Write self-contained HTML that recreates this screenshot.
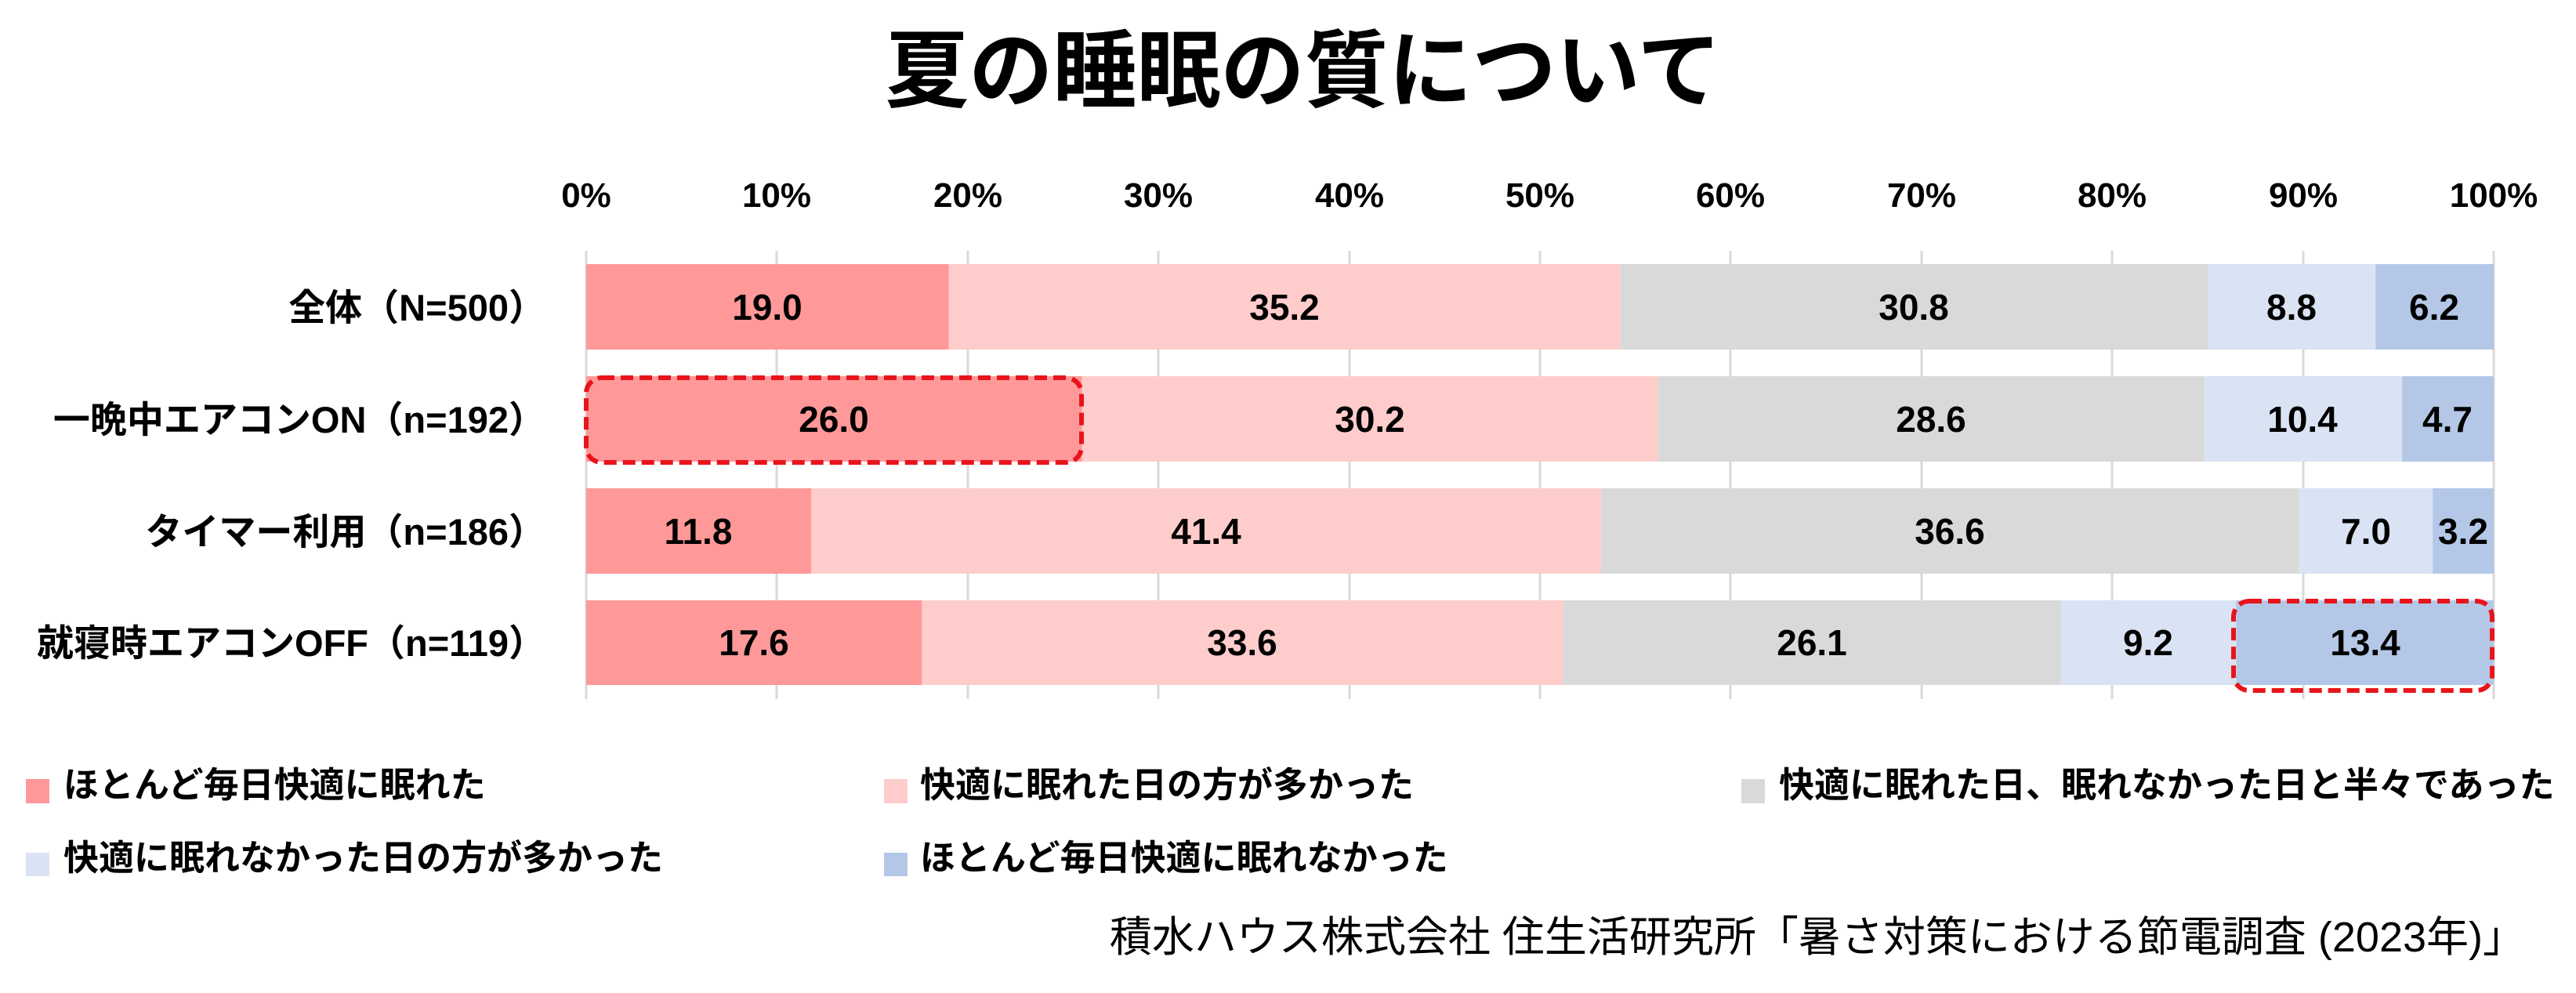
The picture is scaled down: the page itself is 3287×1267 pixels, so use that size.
<!DOCTYPE html>
<html><head><meta charset="utf-8"><style>
html,body{margin:0;padding:0;background:#fff;}
svg{display:block;}
text{font-family:"Liberation Sans","Noto Sans CJK JP",sans-serif;}
.b{font-weight:bold;}
</style></head><body>
<svg width="3287" height="1267" viewBox="0 0 3287 1267" xmlns="http://www.w3.org/2000/svg">
<text x="1663" y="128" text-anchor="middle" class="b" font-size="108" textLength="1067" lengthAdjust="spacingAndGlyphs">夏の睡眠の質について</text>
<g font-size="44" class="b" text-anchor="middle">
<text x="748" y="264">0%</text><text x="991" y="264">10%</text><text x="1235" y="264">20%</text><text x="1478" y="264">30%</text><text x="1722" y="264">40%</text><text x="1965" y="264">50%</text><text x="2208" y="264">60%</text><text x="2452" y="264">70%</text><text x="2695" y="264">80%</text><text x="2939" y="264">90%</text><text x="3182" y="264">100%</text>
</g>
<g stroke="#d9d9d9" stroke-width="3">
<line x1="748" y1="320" x2="748" y2="892"/><line x1="991" y1="320" x2="991" y2="892"/><line x1="1235" y1="320" x2="1235" y2="892"/><line x1="1478" y1="320" x2="1478" y2="892"/><line x1="1722" y1="320" x2="1722" y2="892"/><line x1="1965" y1="320" x2="1965" y2="892"/><line x1="2208" y1="320" x2="2208" y2="892"/><line x1="2452" y1="320" x2="2452" y2="892"/><line x1="2695" y1="320" x2="2695" y2="892"/><line x1="2939" y1="320" x2="2939" y2="892"/><line x1="3182" y1="320" x2="3182" y2="892"/>
</g>
<rect x="748" y="337" width="462.5" height="109" fill="#ff9999"/>
<rect x="1210.5" y="337" width="856.8" height="109" fill="#ffcccc"/>
<rect x="2067.3" y="337" width="749.7" height="109" fill="#d9d9d9"/>
<rect x="2817" y="337" width="214.2" height="109" fill="#dae3f3"/>
<rect x="3031.2" y="337" width="150.8" height="109" fill="#b4c7e7"/>
<rect x="748" y="480" width="632.8" height="109" fill="#ff9999"/>
<rect x="1380.8" y="480" width="735.1" height="109" fill="#ffcccc"/>
<rect x="2115.9" y="480" width="696.1" height="109" fill="#d9d9d9"/>
<rect x="2812" y="480" width="253.1" height="109" fill="#dae3f3"/>
<rect x="3065.1" y="480" width="116.9" height="109" fill="#b4c7e7"/>
<rect x="748" y="623" width="287.2" height="109" fill="#ff9999"/>
<rect x="1035.2" y="623" width="1007.7" height="109" fill="#ffcccc"/>
<rect x="2042.9" y="623" width="890.8" height="109" fill="#d9d9d9"/>
<rect x="2933.7" y="623" width="170.4" height="109" fill="#dae3f3"/>
<rect x="3104.1" y="623" width="77.9" height="109" fill="#b4c7e7"/>
<rect x="748" y="766" width="428.4" height="108" fill="#ff9999"/>
<rect x="1176.4" y="766" width="817.8" height="108" fill="#ffcccc"/>
<rect x="1994.2" y="766" width="635.3" height="108" fill="#d9d9d9"/>
<rect x="2629.5" y="766" width="223.9" height="108" fill="#dae3f3"/>
<rect x="2853.4" y="766" width="328.6" height="108" fill="#b4c7e7"/>
<g font-size="46" class="b" text-anchor="middle">
<text x="979" y="408">19.0</text><text x="1639" y="408">35.2</text><text x="2442" y="408">30.8</text><text x="2924" y="408">8.8</text><text x="3106" y="408">6.2</text>
<text x="1064" y="551">26.0</text><text x="1748" y="551">30.2</text><text x="2464" y="551">28.6</text><text x="2938" y="551">10.4</text><text x="3123" y="551">4.7</text>
<text x="891" y="694">11.8</text><text x="1539" y="694">41.4</text><text x="2488" y="694">36.6</text><text x="3019" y="694">7.0</text><text x="3143" y="694">3.2</text>
<text x="962" y="836">17.6</text><text x="1585" y="836">33.6</text><text x="2312" y="836">26.1</text><text x="2741" y="836">9.2</text><text x="3018" y="836">13.4</text>
</g>
<g fill="none" stroke="#e8141b" stroke-width="6" stroke-dasharray="16 8">
<rect x="748" y="482" width="632" height="108" rx="20"/>
<rect x="2850" y="767" width="330" height="114" rx="20"/>
</g>
<g font-size="47" class="b" text-anchor="end">
<text x="696" y="409">全体（N=500）</text>
<text x="696" y="552">一晩中エアコンON（n=192）</text>
<text x="696" y="695">タイマー利用（n=186）</text>
<text x="696" y="837">就寝時エアコンOFF（n=119）</text>
</g>
<rect x="33" y="994" width="30" height="31" fill="#ff9999"/>
<rect x="1128" y="994" width="30" height="31" fill="#ffcccc"/>
<rect x="2222" y="994" width="30" height="31" fill="#d9d9d9"/>
<rect x="33" y="1088" width="30" height="30" fill="#dae3f3"/>
<rect x="1128" y="1088" width="30" height="30" fill="#b4c7e7"/>
<g font-size="45" class="b">
<text x="81" y="1017">ほとんど毎日快適に眠れた</text>
<text x="1174" y="1017">快適に眠れた日の方が多かった</text>
<text x="2270" y="1017">快適に眠れた日、眠れなかった日と半々であった</text>
<text x="81" y="1110">快適に眠れなかった日の方が多かった</text>
<text x="1174" y="1110">ほとんど毎日快適に眠れなかった</text>
</g>
<text x="3222" y="1214" font-size="54" text-anchor="end">積水ハウス株式会社 住生活研究所「暑さ対策における節電調査 (2023年)」</text>
</svg>
</body></html>
